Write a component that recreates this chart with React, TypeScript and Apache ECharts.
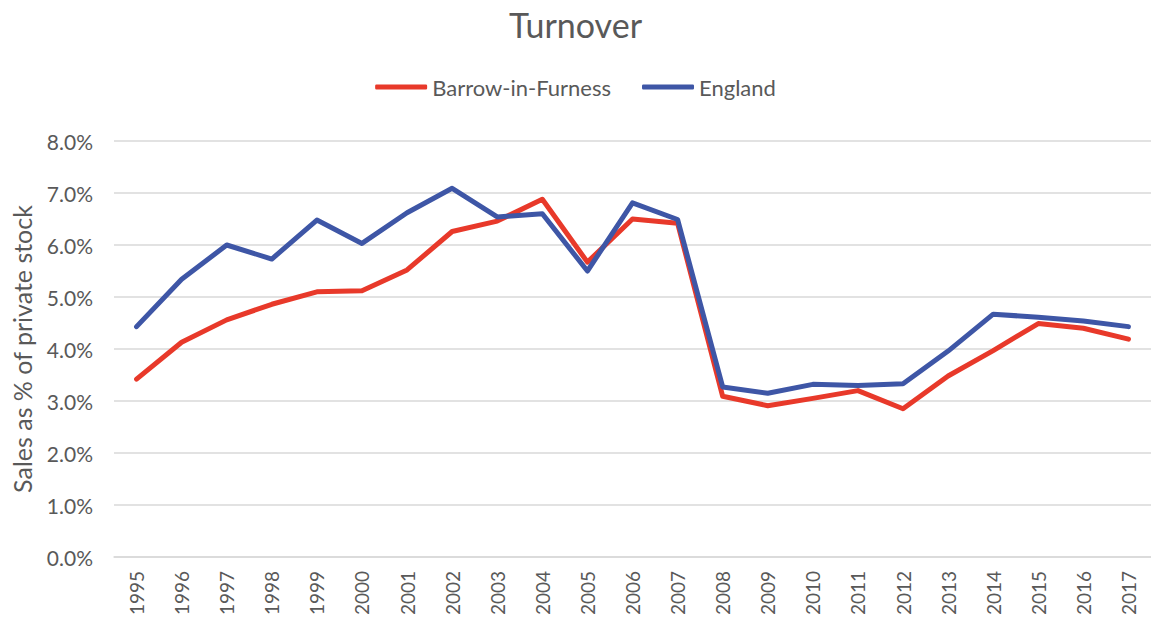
import React, { useEffect, useRef } from "react";
import * as echarts from "echarts";

const years = ["1995","1996","1997","1998","1999","2000","2001","2002","2003","2004","2005","2006","2007","2008","2009","2010","2011","2012","2013","2014","2015","2016","2017"];
const barrow = [3.42,4.13,4.56,4.86,5.10,5.12,5.52,6.26,6.46,6.88,5.67,6.50,6.42,3.09,2.91,3.05,3.20,2.85,3.48,3.97,4.49,4.40,4.19];
const england = [4.43,5.34,6.00,5.73,6.48,6.03,6.62,7.09,6.54,6.60,5.50,6.81,6.49,3.27,3.15,3.32,3.30,3.33,3.96,4.67,4.61,4.54,4.43];

const FONT = "Lato, 'Open Sans', sans-serif";
const GREY = "#595959";

export default function App() {
  const ref = useRef<HTMLDivElement>(null);
  useEffect(() => {
    if (!ref.current) return;
    const chart = echarts.init(ref.current, undefined, { renderer: "svg" });
    chart.setOption({
      animation: false,
      backgroundColor: "#ffffff",
      title: {
        text: "Turnover",
        left: "center",
        top: 2,
        textStyle: { fontFamily: FONT, fontSize: 34, fontWeight: "normal", color: GREY },
      },
      legend: {
        top: 76,
        left: "center",
        padding: 0,
        icon: "roundRect",
        itemWidth: 52,
        itemHeight: 5,
        itemGap: 31,
        textStyle: { fontFamily: FONT, fontSize: 22, color: GREY },
        data: ["Barrow-in-Furness", "England"],
      },
      grid: { left: 114, top: 141, width: 1044, bottom: 69, containLabel: false },
      xAxis: {
        type: "category",
        data: years,
        boundaryGap: true,
        axisLine: { show: true, lineStyle: { color: "#d9d9d9", width: 1.5 } },
        axisTick: { show: false },
        axisLabel: { rotate: 90, margin: 14, fontFamily: FONT, fontSize: 19, color: GREY, interval: 0 },
      },
      yAxis: {
        type: "value",
        min: 0,
        max: 8,
        interval: 1,
        name: "Sales as % of private stock",
        nameLocation: "middle",
        nameGap: 80,
        nameTextStyle: { fontFamily: FONT, fontSize: 25, color: GREY },
        axisLine: { show: false },
        axisTick: { show: false },
        axisLabel: {
          margin: 21,
          fontFamily: FONT,
          fontSize: 21,
          color: GREY,
          formatter: (v: number) => v.toFixed(1) + "%",
        },
        splitLine: { lineStyle: { color: "#d9d9d9", width: 1.5 } },
      },
      series: [
        {
          name: "Barrow-in-Furness",
          type: "line",
          data: barrow,
          symbol: "none",
          lineStyle: { color: "#E8392A", width: 5, cap: "round", join: "round" },
          itemStyle: { color: "#E8392A" },
        },
        {
          name: "England",
          type: "line",
          data: england,
          symbol: "none",
          lineStyle: { color: "#3E56A6", width: 5, cap: "round", join: "round" },
          itemStyle: { color: "#3E56A6" },
        },
      ],
    });
    return () => chart.dispose();
  }, []);
  return (
    <div
      ref={ref}
      style={{ position: "fixed", left: 0, top: 0, width: 1151, height: 626, overflow: "hidden" }}
    />
  );
}
